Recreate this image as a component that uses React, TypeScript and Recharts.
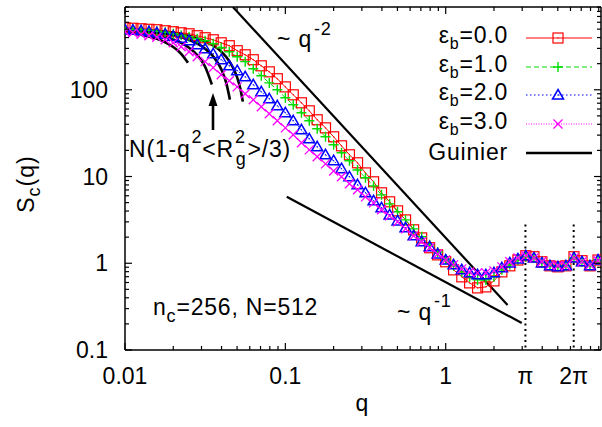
import React from 'react';
import { ComposedChart, Line, XAxis, YAxis } from 'recharts';

// wave vectors of the simulation data
const q = [
  0.01, 0.0112, 0.0126, 0.0141, 0.0158, 0.0178, 0.02, 0.0224, 0.0251, 0.0282,
  0.0316, 0.0355, 0.0398, 0.0447, 0.0501, 0.0562, 0.0631, 0.0708, 0.0794, 0.0891,
  0.1, 0.112, 0.126, 0.141, 0.158, 0.178, 0.2, 0.224, 0.251, 0.282,
  0.316, 0.355, 0.398, 0.447, 0.501, 0.562, 0.631, 0.708, 0.794, 0.891,
  1.0, 1.12, 1.26, 1.41, 1.58, 1.78, 2.0, 2.24, 2.51, 2.82,
  3.16, 3.55, 3.98, 4.47, 5.01, 5.62, 6.31, 7.08, 7.94, 8.91,
];

// S_c(q) for eps_b = 0.0, 1.0, 2.0, 3.0
const eps0 = [
  519, 512, 505, 498, 492, 479, 467, 454, 442, 420,
  398, 377, 348, 322, 282, 253, 222, 189, 161, 134,
  108, 87.5, 70.8, 57.2, 45.1, 36.4, 28.7, 22.6, 17.8, 14.4,
  11.0, 8.69, 6.49, 5.11, 4.02, 3.16, 2.43, 1.96, 1.51, 1.25,
  1.04, 0.839, 0.697, 0.594, 0.52, 0.534, 0.626, 0.796, 0.934, 1.09,
  1.22, 1.19, 1.04, 0.934, 0.909, 0.934, 1.19, 1.07, 0.934, 1.09,
];
const eps1 = [
  505, 498, 492, 486, 473, 461, 442, 425, 409, 388,
  368, 339, 305, 274, 240, 211, 175, 145, 120, 100,
  80.9, 67.1, 54.3, 43.9, 35.5, 28.7, 23.2, 18.8, 15.2, 11.9,
  9.66, 7.81, 6.15, 4.84, 3.92, 3.16, 2.49, 2.02, 1.63, 1.35,
  1.12, 0.934, 0.796, 0.697, 0.643, 0.643, 0.697, 0.839, 0.959, 1.09,
  1.19, 1.15, 1.01, 0.934, 0.909, 0.934, 1.15, 1.04, 0.934, 1.09,
];
const eps2 = [
  492, 486, 479, 467, 454, 437, 414, 393, 368, 331,
  297, 260, 222, 189, 166, 141, 114, 94.8, 78.7, 65.3,
  54.3, 43.9, 34.5, 27.2, 22.0, 17.8, 15.2, 12.3, 9.93, 8.02,
  6.49, 5.25, 4.36, 3.61, 3.08, 2.56, 2.07, 1.77, 1.55, 1.28,
  1.09, 0.959, 0.839, 0.775, 0.735, 0.735, 0.775, 0.885, 1.01, 1.12,
  1.22, 1.15, 1.01, 0.934, 0.909, 0.934, 1.15, 1.04, 0.934, 1.09,
];
const eps3 = [
  467, 454, 437, 420, 403, 377, 348, 314, 274, 240,
  211, 180, 149, 127, 108, 89.9, 76.7, 63.6, 52.8, 43.9,
  36.4, 30.3, 24.5, 20.3, 16.9, 14.0, 11.6, 9.93, 8.24, 7.03,
  5.83, 4.97, 4.13, 3.52, 3.0, 2.49, 2.07, 1.77, 1.51, 1.28,
  1.09, 0.959, 0.861, 0.796, 0.775, 0.775, 0.817, 0.909, 1.04, 1.15,
  1.22, 1.15, 1.04, 0.959, 0.934, 0.934, 1.15, 1.04, 0.959, 1.07,
];

// Guinier curves
const guinierQ1 = [0.01, 0.0126, 0.0158, 0.0178, 0.02, 0.0224, 0.0247];
const guinierS1 = [462, 432, 386, 353, 311, 260, 205];
const guinierQ2 = [0.01, 0.0141, 0.0178, 0.02, 0.0224, 0.0251, 0.0282, 0.0316, 0.0348];
const guinierS2 = [479, 447, 408, 381, 347, 305, 251, 184, 115];
const guinierQ3 = [0.01, 0.0158, 0.02, 0.0251, 0.0282, 0.0316, 0.0355, 0.0398, 0.0428, 0.0451];
const guinierS3 = [491, 459, 426, 377, 342, 298, 242, 173, 120, 77];
const guinierQ4 = [0.01, 0.02, 0.0251, 0.0316, 0.0355, 0.0398, 0.0447, 0.05, 0.0525, 0.0543];
const guinierS4 = [497, 453, 418, 363, 324, 276, 214, 140, 101, 73];

// power-law guide lines
const slope2Q = [0.0471, 2.43];
const slope2S = [900, 0.331];
const slope1Q = [0.102, 2.98];
const slope1S = [5.83, 0.205];

// dotted markers at pi and 2 pi
const piMarkQ = [Math.PI, 2 * Math.PI];
const piMarkS = [2.8, 0.1];

// axis ticks
const xMajor = [0.01, 0.1, 1];
const xMinor = [
  0.02, 0.03, 0.04, 0.05, 0.06, 0.07, 0.08, 0.09,
  0.2, 0.3, 0.4, 0.5, 0.6, 0.7, 0.8, 0.9,
  2, 3, 4, 5, 6, 7, 8, 9,
];
const xLabelValues = [0.01, 0.1, 1, Math.PI, 2 * Math.PI];
const xLabelNames = ['0.01', '0.1', '1', 'π', '2π'];
const yMajor = [0.1, 1, 10, 100];
const yMinor = [
  0.2, 0.3, 0.4, 0.5, 0.6, 0.7, 0.8, 0.9,
  2, 3, 4, 5, 6, 7, 8, 9,
  20, 30, 40, 50, 60, 70, 80, 90,
  200, 300, 400, 500, 600, 700, 800, 900,
];
const yLabelNames = ['0.1', '1', '10', '100'];

const legendNames = ['0.0', '1.0', '2.0', '3.0'];

const W = 602;
const H = 427;
const FONT = '"Liberation Sans", Arial, Helvetica, sans-serif';
const FS = 23;
const SUB = 18;

const rows = q.map((v, i) => ({ q: v, e0: eps0[i], e1: eps1[i], e2: eps2[i], e3: eps3[i] }));
const pts = (xs: number[], ys: number[]) => xs.map((v, i) => ({ q: v, s: ys[i] }));

const near = (a: number, b: number) => Math.abs(a - b) <= 1e-6 * Math.abs(b);

function Square({ cx, cy, color }: any) {
  return (
    <g>
      <rect x={cx - 5} y={cy - 5} width={10} height={10} fill="none" stroke={color} strokeWidth={1.2} />
      <rect x={cx - 0.6} y={cy - 0.6} width={1.2} height={1.2} fill={color} />
    </g>
  );
}
function Plus({ cx, cy, color }: any) {
  return (
    <path d={`M${cx - 5},${cy}H${cx + 5}M${cx},${cy - 5}V${cy + 5}`} stroke={color} strokeWidth={1.4} fill="none" />
  );
}
function Triangle({ cx, cy, color }: any) {
  return (
    <g>
      <path d={`M${cx},${cy - 5.5}L${cx + 5.5},${cy + 4}L${cx - 5.5},${cy + 4}Z`} fill="none" stroke={color} strokeWidth={1.5} />
      <rect x={cx - 0.6} y={cy - 0.6} width={1.2} height={1.2} fill={color} />
    </g>
  );
}
function Cross({ cx, cy, color }: any) {
  return (
    <path d={`M${cx - 4.5},${cy - 4.5}L${cx + 4.5},${cy + 4.5}M${cx - 4.5},${cy + 4.5}L${cx + 4.5},${cy - 4.5}`} stroke={color} strokeWidth={1.3} fill="none" />
  );
}

const series = [
  { key: 'e0', color: '#ff0000', dash: undefined, Mark: Square },
  { key: 'e1', color: '#00dd00', dash: '5 3', Mark: Plus },
  { key: 'e2', color: '#0000ff', dash: '1.5 2.5', Mark: Triangle },
  { key: 'e3', color: '#ff00ff', dash: '1 1.5', Mark: Cross },
];

function BottomTick(props: any) {
  const { x, y, payload } = props;
  const v = payload.value;
  const major = xMajor.some((m) => near(v, m));
  const li = xLabelValues.findIndex((m) => near(v, m));
  const special = li >= 3;
  return (
    <g>
      {!special && <line x1={x} x2={x} y1={y} y2={y - (major ? 7 : 4)} stroke="#000" strokeWidth={1.2} />}
      {li >= 0 && (
        <text x={x} y={y + 34} textAnchor="middle" fontSize={FS} fontFamily={FONT} fill="#000">
          {xLabelNames[li]}
        </text>
      )}
    </g>
  );
}
function TopTick(props: any) {
  const { x, y, payload } = props;
  const major = xMajor.some((m) => near(payload.value, m));
  return <line x1={x} x2={x} y1={y} y2={y + (major ? 7 : 4)} stroke="#000" strokeWidth={1.2} />;
}
function LeftTick(props: any) {
  const { x, y, payload } = props;
  const li = yMajor.findIndex((m) => near(payload.value, m));
  return (
    <g>
      <line x1={x} x2={x + (li >= 0 ? 7 : 4)} y1={y} y2={y} stroke="#000" strokeWidth={1.2} />
      {li >= 0 && (
        <text x={x - 17} y={y + 8} textAnchor="end" fontSize={FS} fontFamily={FONT} fill="#000">
          {yLabelNames[li]}
        </text>
      )}
    </g>
  );
}
function RightTick(props: any) {
  const { x, y, payload } = props;
  const major = yMajor.some((m) => near(payload.value, m));
  return <line x1={x} x2={x - (major ? 7 : 4)} y1={y} y2={y} stroke="#000" strokeWidth={1.2} />;
}

function Legend() {
  const rowsY = [38, 67, 95, 124, 153];
  return (
    <g letterSpacing={0.8}>
      {series.map((s, i) => (
        <g key={s.key}>
          <text x={508} y={rowsY[i] + 5} textAnchor="end">
            ε<tspan fontSize={16} dy={5.5}>b</tspan>
            <tspan dy={-5.5}>={legendNames[i]}</tspan>
          </text>
          <line x1={526} x2={592} y1={rowsY[i]} y2={rowsY[i]} stroke={s.color} strokeWidth={1} strokeDasharray={s.dash} />
          <s.Mark cx={558} cy={rowsY[i]} color={s.color} />
        </g>
      ))}
      <text x={508} y={rowsY[4] + 6.5} textAnchor="end">Guinier</text>
      <line x1={526} x2={592} y1={rowsY[4]} y2={rowsY[4]} stroke="#000" strokeWidth={2.5} />
    </g>
  );
}

export default function App() {
  const xTicks = [...xMajor, ...xMinor, Math.PI, 2 * Math.PI].sort((a, b) => a - b);
  const xTopTicks = [...xMajor, ...xMinor].sort((a, b) => a - b);
  const yTicks = [...yMajor, ...yMinor].sort((a, b) => a - b);
  const guinier = [
    pts(guinierQ1, guinierS1),
    pts(guinierQ2, guinierS2),
    pts(guinierQ3, guinierS3),
    pts(guinierQ4, guinierS4),
  ];
  return (
    <div style={{ position: 'absolute', left: 0, top: 0, width: W, height: H, background: '#fff' }}>
      <ComposedChart width={W} height={H} data={rows} margin={{ top: 6, right: 0, bottom: 0, left: 0 }}>
        <XAxis
          dataKey="q"
          type="number"
          scale="log"
          domain={[0.01, 9.3]}
          allowDataOverflow
          ticks={xTicks}
          interval={0}
          height={77}
          tickSize={0}
          tickMargin={0}
          tickLine={false}
          tick={<BottomTick />}
          axisLine={{ stroke: '#000', strokeWidth: 1.5 }}
        />
        <XAxis
          xAxisId="top"
          orientation="top"
          dataKey="q"
          type="number"
          scale="log"
          domain={[0.01, 9.3]}
          allowDataOverflow
          ticks={xTopTicks}
          interval={0}
          height={1}
          tickSize={0}
          tickMargin={0}
          tickLine={false}
          tick={<TopTick />}
          axisLine={{ stroke: '#000', strokeWidth: 1.5 }}
        />
        <YAxis
          type="number"
          scale="log"
          domain={[0.1, 900]}
          allowDataOverflow
          ticks={yTicks}
          interval={0}
          width={125}
          tickSize={0}
          tickMargin={0}
          tickLine={false}
          tick={<LeftTick />}
          axisLine={{ stroke: '#000', strokeWidth: 1.5 }}
        />
        <YAxis
          yAxisId="right"
          orientation="right"
          type="number"
          scale="log"
          domain={[0.1, 900]}
          allowDataOverflow
          ticks={yTicks}
          interval={0}
          width={1}
          tickSize={0}
          tickMargin={0}
          tickLine={false}
          tick={<RightTick />}
          axisLine={{ stroke: '#000', strokeWidth: 1.5 }}
        />
        {series.map((s) => (
          <Line
            key={s.key}
            dataKey={s.key}
            type="linear"
            stroke={s.color}
            strokeWidth={1}
            strokeDasharray={s.dash}
            isAnimationActive={false}
            activeDot={false}
            dot={(p: any) => <s.Mark key={`${s.key}-${p.index}`} cx={p.cx} cy={p.cy} color={s.color} />}
          />
        ))}
        {guinier.map((g, i) => (
          <Line
            key={`g${i}`}
            data={g}
            dataKey="s"
            type="monotone"
            stroke="#000"
            strokeWidth={2.6}
            dot={false}
            activeDot={false}
            isAnimationActive={false}
          />
        ))}
        <Line data={pts(slope2Q, slope2S)} dataKey="s" stroke="#000" strokeWidth={2.2} dot={false} activeDot={false} isAnimationActive={false} />
        <Line data={pts(slope1Q, slope1S)} dataKey="s" stroke="#000" strokeWidth={2.2} dot={false} activeDot={false} isAnimationActive={false} />
        {piMarkQ.map((m, i) => (
          <Line
            key={`pi${i}`}
            data={pts([m, m], piMarkS)}
            dataKey="s"
            stroke="#000"
            strokeWidth={2}
            strokeDasharray="2 3.5"
            dot={false}
            activeDot={false}
            isAnimationActive={false}
          />
        ))}
      </ComposedChart>
      <svg
        width={W}
        height={H}
        style={{ position: 'absolute', left: 0, top: 0, pointerEvents: 'none' }}
        fontFamily={FONT}
        fontSize={FS}
        fill="#000"
      >
        <text transform="translate(34,184) rotate(-90)" textAnchor="middle" letterSpacing={1}>
          S<tspan fontSize={SUB} dy={6}>c</tspan>
          <tspan dy={-6}>(q)</tspan>
        </text>
        <text x={362} y={411} textAnchor="middle">q</text>
        <text x={277} y={47} letterSpacing={0.8}>
          ~ q<tspan fontSize={SUB} dx={2} dy={-12}>-2</tspan>
        </text>
        <text x={397} y={320} letterSpacing={0.8}>
          ~ q<tspan fontSize={SUB} dx={2} dy={-13}>-1</tspan>
        </text>
        <text x={129} y={157} letterSpacing={0.8}>
          N(1-q<tspan fontSize={SUB} dx={1} dy={-14}>2</tspan>
          <tspan dy={14}>&lt;R</tspan>
          <tspan fontSize={SUB} dx={1} dy={-14}>2</tspan>
          <tspan fontSize={SUB} dx={-10} dy={22}>g</tspan>
          <tspan dx={1} dy={-8}>&gt;/3)</tspan>
        </text>
        <text x={153} y={315} letterSpacing={0.8}>
          n<tspan fontSize={SUB} dy={7}>c</tspan>
          <tspan dy={-7}>=256, N=512</tspan>
        </text>
        <line x1={213} x2={213} y1={130} y2={104} stroke="#000" strokeWidth={2.6} />
        <path d="M213,93L217.5,106L208.5,106Z" fill="#000" />
        <Legend />
      </svg>
    </div>
  );
}
